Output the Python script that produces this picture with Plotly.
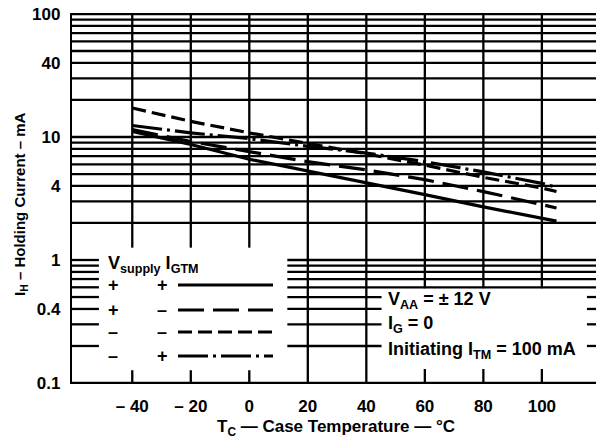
import math
import plotly.graph_objects as go

# ---------------- data ----------------
temps = [-40, -20, 0, 20, 40, 60, 80, 100, 105]
ih_pp = [11.1, 8.7, 6.6, 5.3, 4.2, 3.4, 2.7, 2.17, 2.07]    # Vsupply +, IGTM +  (solid)
ih_pm = [11.5, 9.2, 7.6, 6.3, 5.4, 4.5, 3.6, 2.85, 2.65]    # Vsupply +, IGTM -  (long dash)
ih_mm = [17.2, 13.4, 10.8, 8.9, 7.3, 5.9, 4.7, 3.85, 3.6]   # Vsupply -, IGTM -  (dashed)
ih_mp = [12.4, 10.8, 9.7, 8.4, 7.4, 6.3, 5.2, 4.2, 3.9]     # Vsupply -, IGTM +  (dash-dot)

x_ticks = [-40, -20, 0, 20, 40, 60, 80, 100]
x_tick_labels = ["– 40", "– 20", "0", "20", "40", "60", "80", "100"]
y_ticks = [0.1, 0.4, 1, 4, 10, 40, 100]
y_tick_labels = ["0.1", "0.4", "1", "4", "10", "40", "100"]

legend_signs = [("+", "+"), ("+", "–"), ("–", "–"), ("–", "+")]

# ---------------- layout constants ----------------
W, H = 596, 443
L, R, T, B = 72, 0, 13, 59
XR = [-60.6, 118.5]
YR = [-1.0081, 2.0081]
PW, PH = W - L - R, H - T - B

FONT = "Liberation Sans, Arial, Helvetica, sans-serif"
LW = 2.3

# regions without grid (legend box and note box), in data units
leg_box = dict(x0=-51.4, x1=13.0, ytop=1.26, tick=0.127)
note_box = dict(x0=45.2, x1=115.4, ytop=0.59, tick=0.13)


def px2paper(px, py):
    return (px - L) / PW, (T + PH - py) / PH


# ---------------- grid ----------------
grid_vals = [m * 10 ** e for e in (-1, 0, 1) for m in range(1, 10)] + [100]

gx, gy = [], []
for v in grid_vals:
    if v <= 0.1001:
        segs = [(XR[0], XR[1])]
    else:
        cuts = []
        for bx in (leg_box, note_box):
            if v < bx["ytop"]:
                cuts.append((bx["x0"], bx["x1"]))
        cuts.sort()
        segs, start = [], XR[0]
        for c0, c1 in cuts:
            segs.append((start, c0))
            start = c1
        segs.append((start, XR[1]))
    for a, b in segs:
        gx += [a, b, None]
        gy += [v, v, None]

for t in x_ticks:
    box = None
    for bx in (leg_box, note_box):
        if bx["x0"] < t < bx["x1"]:
            box = bx
    if box is None:
        gx += [t, t, None]
        gy += [0.1, 100, None]
    else:
        gx += [t, t, None, t, t, None]
        gy += [0.1, box["tick"], None, box["ytop"], 100, None]

fig = go.Figure()
fig.add_trace(go.Scatter(x=gx, y=gy, mode="lines",
                         line=dict(color="black", width=LW),
                         hoverinfo="skip", showlegend=False))

# ---------------- curves ----------------
styles = [
    (ih_pp, "solid"),
    (ih_pm, "26px,9px"),
    (ih_mm, "14px,6px"),
    (ih_mp, "30px,5px,3px,5px"),
]
for ys, dash in styles:
    fig.add_trace(go.Scatter(x=temps, y=ys, mode="lines",
                             line=dict(color="black", width=3.2, dash=dash),
                             showlegend=False))

# ---------------- legend (custom) ----------------
shapes = []
annos = []
row_y = [285, 310, 332, 356]
for (sv, sg), ry, (_, dash) in zip(legend_signs, row_y, styles):
    x0, y0 = px2paper(178, ry)
    x1, _ = px2paper(273, ry)
    shapes.append(dict(type="line", xref="paper", yref="paper",
                       x0=x0, x1=x1, y0=y0, y1=y0,
                       line=dict(color="black", width=3.2, dash=dash)))
    for sx, s in ((113, sv), (162, sg)):
        ax, ay = px2paper(sx, ry)
        annos.append(dict(x=ax, y=ay, xref="paper", yref="paper", text=s,
                          showarrow=False, xanchor="center", yanchor="middle",
                          font=dict(family=FONT, size=18, color="black", weight="bold")))

ax, ay = px2paper(106, 264)
annos.append(dict(x=ax, y=ay, xref="paper", yref="paper",
                  text="V<sub>supply</sub> I<sub>GTM</sub>", showarrow=False,
                  xanchor="left", yanchor="middle",
                  font=dict(family=FONT, size=18, color="black", weight="bold")))

for txt, py in (("V<sub>AA</sub> = ± 12 V", 300),
                ("I<sub>G</sub> = 0", 324),
                ("Initiating I<sub>TM</sub> = 100 mA", 350)):
    ax, ay = px2paper(386, py)
    annos.append(dict(x=ax, y=ay, xref="paper", yref="paper", text=txt,
                      showarrow=False, xanchor="left", yanchor="middle",
                      font=dict(family=FONT, size=18, color="black", weight="bold")))

# axis titles
ax, ay = px2paper(336, 428)
annos.append(dict(x=ax, y=ay, xref="paper", yref="paper",
                  text="T<sub>C</sub> — Case Temperature — °C", showarrow=False,
                  xanchor="center", yanchor="middle",
                  font=dict(family=FONT, size=17, color="black", weight="bold")))
ax, ay = px2paper(20, 204)
annos.append(dict(x=ax, y=ay, xref="paper", yref="paper", textangle=-90,
                  text="I<sub>H</sub> – Holding Current – mA", showarrow=False,
                  xanchor="center", yanchor="middle",
                  font=dict(family=FONT, size=15, color="black", weight="bold")))

fig.update_layout(
    width=W, height=H,
    margin=dict(l=L, r=R, t=T, b=B, pad=0),
    paper_bgcolor="white", plot_bgcolor="white",
    shapes=shapes, annotations=annos,
    showlegend=False,
    font=dict(family=FONT, color="black"),
)
fig.update_xaxes(range=XR, showgrid=False, zeroline=False,
                 tickvals=x_ticks, ticktext=x_tick_labels, ticks="",
                 ticklabelstandoff=10,
                 tickfont=dict(family=FONT, size=17, color="black", weight="bold"),
                 showline=False)
fig.update_yaxes(type="log", range=YR, showgrid=False, zeroline=False,
                 tickvals=y_ticks, ticktext=y_tick_labels, ticks="",
                 ticklabelstandoff=6,
                 tickfont=dict(family=FONT, size=17, color="black", weight="bold"),
                 showline=True, linecolor="black", linewidth=LW)

fig.write_html("out.html", config=dict(displayModeBar=False),
               post_script="document.body.style.margin='0';document.body.style.overflow='hidden';")
